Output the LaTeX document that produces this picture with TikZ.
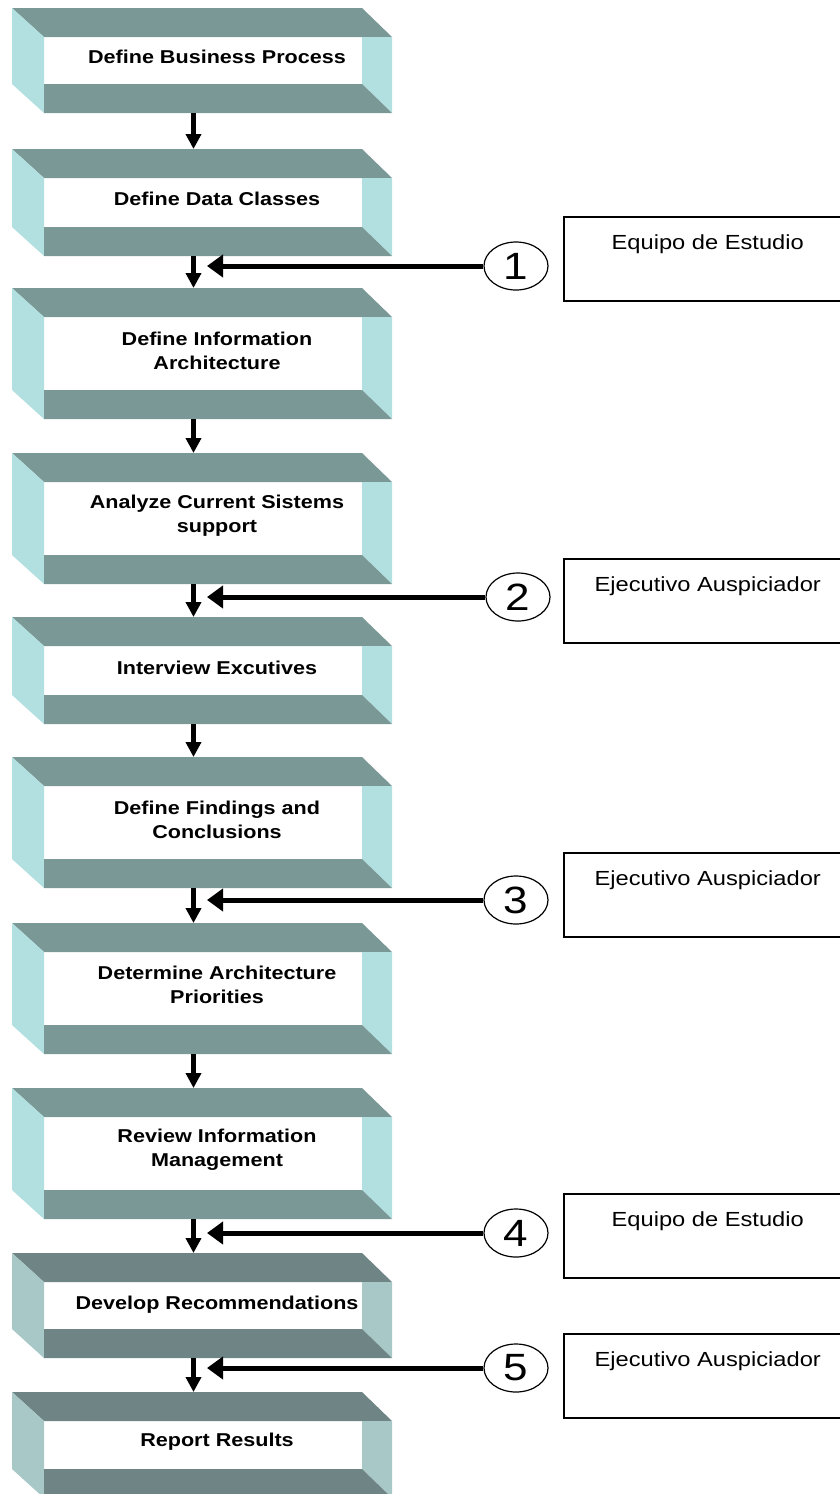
\documentclass[tikz,border=0pt]{standalone}
\usepackage{fontspec}
\setmainfont{Liberation Sans}
\usepackage{graphicx}
\usetikzlibrary{arrows.meta, positioning, shapes.geometric}

\definecolor{bandA}{RGB}{122,152,150}
\definecolor{sideA}{RGB}{178,224,224}
\definecolor{bandB}{RGB}{111,133,133}
\definecolor{sideB}{RGB}{168,199,199}

\newcommand{\wide}[1]{\scalebox{1.16}[1]{#1}}
% one 3d step frame: name, top, bottom, colour set
\newcommand{\stepframe}[4]{
  \fill[band#4] (12,#2) -- (362,#2) -- (392,#2+29) -- (44,#2+29) -- cycle;
  \fill[side#4] (12,#2) -- (44,#2+29) -- (44,#3) -- (12,#3-29) -- cycle;
  \fill[side#4] (362,#2+29) -- (392,#2+29) -- (392,#3) -- (362,#3-29) -- cycle;
  \fill[band#4] (44,#3-29) -- (362,#3-29) -- (392,#3) -- (44,#3) -- cycle;
  \coordinate (#1-t) at (193.5,#2);
  \coordinate (#1-b) at (193.5,#3);
}

\begin{document}
\begin{tikzpicture}[x=1pt, y=-1pt,
    steptext/.style={font=\fontsize{18.6pt}{24pt}\selectfont\bfseries, align=center, inner sep=0pt},
    notebox/.style={draw, line width=1.5pt, anchor=north west, minimum width=288pt,
      inner xsep=0pt, inner ysep=8pt, text height=25pt, text depth=43pt,
      font=\fontsize{20.4pt}{24pt}\selectfont},
    stage/.style={draw, ellipse, line width=1.2pt, minimum width=64pt, minimum height=48pt,
      inner sep=0pt, fill=white, font=\fontsize{38pt}{38pt}\selectfont},
    flow/.style={line width=4.5pt, -{Triangle[width=15pt,length=15pt]}},
    feed/.style={line width=5pt, -{Triangle[width=22pt,length=16pt]}}]
  \useasboundingbox (0,0) rectangle (840,1494);
  \clip (0,0) rectangle (840,1494);

  \stepframe{f1}{8}{113}{A}
  \stepframe{f2}{149}{256}{A}
  \stepframe{f3}{288}{419}{A}
  \stepframe{f4}{453}{584}{A}
  \stepframe{f5}{617}{724}{A}
  \stepframe{f6}{757}{888}{A}
  \stepframe{f7}{923}{1054}{A}
  \stepframe{f8}{1088}{1219}{A}
  \stepframe{f9}{1253}{1358}{B}
  \stepframe{f10}{1392}{1498}{B}

  \node[steptext] (s1) at (217,57) {\wide{Define Business Process}};
  \node[steptext] (s2) at (217,199) {\wide{Define Data Classes}};
  \node[steptext] (s3) at (217,351) {\wide{Define Information}\\\wide{Architecture}};
  \node[steptext] (s4) at (217,516) {\wide{Analyze Current Sistems}\\\wide{support}};
  \node[steptext] (s5) at (217,668) {\wide{Interview Excutives}};
  \node[steptext] (s6) at (217,820) {\wide{Define Findings and}\\\wide{Conclusions}};
  \node[steptext] (s7) at (217,985) {\wide{Determine Architecture}\\\wide{Priorities}};
  \node[steptext] (s8) at (217,1150) {\wide{Review Information}\\\wide{Management}};
  \node[steptext] (s9) at (217,1305) {\wide{Develop Recommendations}};
  \node[steptext] (s10) at (217,1442) {\wide{Report Results}};

  % down arrows between steps
  \draw[flow] (f1-b) -- (f2-t);
  \draw[flow] (f2-b) -- (f3-t);
  \draw[flow] (f3-b) -- (f4-t);
  \draw[flow] (f4-b) -- (f5-t);
  \draw[flow] (f5-b) -- (f6-t);
  \draw[flow] (f6-b) -- (f7-t);
  \draw[flow] (f7-b) -- (f8-t);
  \draw[flow] (f8-b) -- (f9-t);
  \draw[flow] (f9-b) -- (f10-t);

  % who takes part
  \node[notebox] (r1) at (563,216) {\wide{Equipo de Estudio}};
  \node[notebox] (r2) at (563,558) {\wide{Ejecutivo Auspiciador}};
  \node[notebox] (r3) at (563,852) {\wide{Ejecutivo Auspiciador}};
  \node[notebox] (r4) at (563,1193) {\wide{Equipo de Estudio}};
  \node[notebox] (r5) at (563,1333) {\wide{Ejecutivo Auspiciador}};

  \node[stage] (c1) at (516,266) {\wide{1}};
  \node[stage] (c2) at (518,597) {\wide{2}};
  \node[stage] (c3) at (516,900) {\wide{3}};
  \node[stage] (c4) at (516,1233) {\wide{4}};
  \node[stage] (c5) at (516,1368) {\wide{5}};

  \coordinate (j1) at (207,266);
  \coordinate (j2) at (207,597);
  \coordinate (j3) at (207,900);
  \coordinate (j4) at (207,1233);
  \coordinate (j5) at (207,1368);

  \draw[feed] (c1) -- (j1);
  \draw[feed] (c2) -- (j2);
  \draw[feed] (c3) -- (j3);
  \draw[feed] (c4) -- (j4);
  \draw[feed] (c5) -- (j5);
\end{tikzpicture}
\end{document}
